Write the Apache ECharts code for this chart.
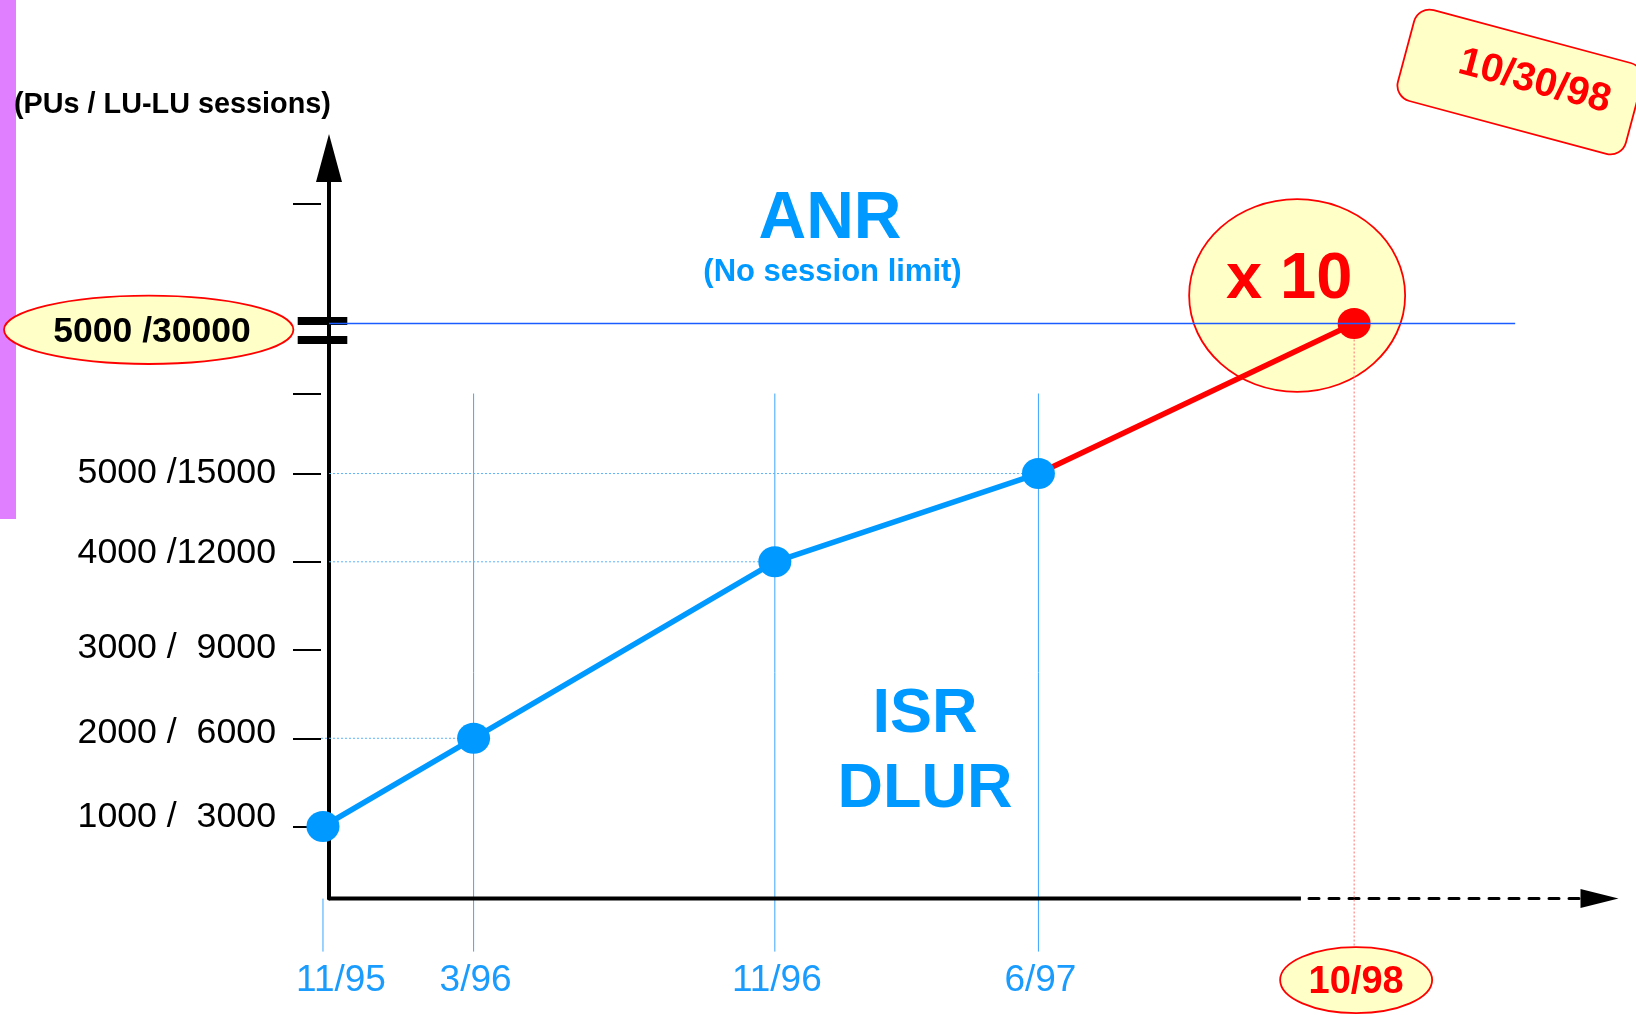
<!DOCTYPE html>
<html>
<head>
<meta charset="utf-8">
<script src="https://cdn.jsdelivr.net/npm/echarts@6/dist/echarts.min.js"></script>
<style>
html, body { margin: 0; padding: 0; background: #fff; }
#main { width: 1636px; height: 1015px; }
</style>
</head>
<body>
<div id="main"></div>
<script>
// data
var dateLabels = ['11/95', '3/96', '11/96', '6/97', '10/98'];
var monthsSinceStart = [0, 4, 12, 19, 35];
var puCounts = [1000, 2000, 4000, 5000, 5000];
var sessionCounts = [3000, 6000, 12000, 15000, 30000];
var yTickSessions = [3000, 6000, 9000, 12000, 15000, 23000, 42000];
var yTickLabels = ['1000 /  3000', '2000 /  6000', '3000 /  9000', '4000 /12000', '5000 /15000', '', ''];
var anrLabel = puCounts[4] + ' /' + sessionCounts[4];

// both axes are broken: time after 6/97 and sessions above 15000 are squeezed
var X_BREAK = 19, X_SQUEEZE = 0.524;
var Y_BREAK = 15000, Y_SQUEEZE = 0.34;
function bx(m) { return m <= X_BREAK ? m : X_BREAK + (m - X_BREAK) * X_SQUEEZE; }
function by(s) { return s <= Y_BREAK ? s : Y_BREAK + (s - Y_BREAK) * Y_SQUEEZE; }

var X_MIN = 0.16, X_MAX = 33.9, Y_MIN = 550, Y_MAX = 25730;
var PX_PER_UNIT_Y = 740.7 / (Y_MAX - Y_MIN);
// the slide's labels sit a few px above their ticks (px, per labelled tick)
var labelLift = [9, 5, 2, 9, 0];

var FONT = '"Liberation Sans", Arial, Helvetica, sans-serif';
var BLUE = '#0099ff';
var RED = '#ff0000';
var PALE = '#ffffc8';

var chart = echarts.init(document.getElementById('main'));

var isrData = [];
for (var i = 0; i < 4; i++) {
    isrData.push([bx(monthsSinceStart[i]), by(sessionCounts[i])]);
}
var anrData = [
    { value: [bx(monthsSinceStart[3]), by(sessionCounts[3])], symbol: 'none' },
    { value: [bx(monthsSinceStart[4]), by(sessionCounts[4])], symbol: 'circle' }
];

var tickPos = yTickSessions.map(by);
var labelPos = [];
tickPos.forEach(function (v, k) {
    if (yTickLabels[k] !== '') labelPos.push(v + labelLift[k] / PX_PER_UNIT_Y);
});

option = {
    animation: false,
    backgroundColor: '#fff',
    grid: { left: 329, right: 36.5, top: 157.9, bottom: 116.4, outerBoundsMode: 'none' },
    xAxis: {
        type: 'value',
        min: X_MIN,
        max: X_MAX,
        axisLine: {
            onZero: false,
            symbol: ['none', 'triangle'],
            symbolSize: [19, 38],
            lineStyle: { color: '#000', width: 3, type: [10, 10] }
        },
        axisTick: { show: false },
        axisLabel: { show: false },
        splitLine: { show: false }
    },
    yAxis: [
        {
            type: 'value',
            position: 'left',
            min: Y_MIN,
            max: Y_MAX,
            axisLine: {
                onZero: false,
                symbol: ['none', 'triangle'],
                symbolSize: [26, 48],
                lineStyle: { color: '#000', width: 4 }
            },
            axisTick: { show: false },
            axisLabel: { show: false },
            splitLine: { show: false }
        },
        {
            type: 'value',
            position: 'left',
            offset: 8,
            min: Y_MIN,
            max: Y_MAX,
            axisLine: { show: false, onZero: false },
            axisTick: {
                show: true,
                length: 28,
                customValues: tickPos,
                lineStyle: { color: '#000', width: 2 }
            },
            axisLabel: {
                customValues: labelPos,
                margin: 45,
                color: '#000',
                fontSize: 35.7,
                fontFamily: FONT,
                formatter: function (v) {
                    var best = 0;
                    for (var k = 0; k < tickPos.length; k++) {
                        if (Math.abs(tickPos[k] - v) < Math.abs(tickPos[best] - v)) best = k;
                    }
                    return yTickLabels[best];
                }
            },
            splitLine: { show: false }
        }
    ],
    series: [
        {
            name: 'ANR',
            type: 'line',
            data: anrData,
            clip: false,
            z: 3,
            symbolSize: [33, 31],
            lineStyle: { color: RED, width: 5.5 },
            itemStyle: { color: RED }
        },
        {
            name: 'ISR / DLUR',
            type: 'line',
            data: isrData,
            clip: false,
            z: 4,
            symbol: 'circle',
            symbolSize: [33, 31],
            lineStyle: { color: BLUE, width: 5.5 },
            itemStyle: { color: BLUE }
        }
    ]
};
chart.setOption(option);

// annotations placed through the grid's own scales
function px(x, y) { return chart.convertToPixel({ gridIndex: 0 }, [x, y]); }
var origin = px(X_MIN, Y_MIN);
var axisX = origin[0], axisY = origin[1];
var anrY = px(X_MIN, by(sessionCounts[4]))[1];
var guideTop = px(X_MIN, by(yTickSessions[5]))[1];
var pts = monthsSinceStart.map(function (m, k) { return px(bx(m), by(sessionCounts[k])); });

var g = [];
function line(x1, y1, x2, y2, style, z) {
    g.push({ type: 'line', z: z || 2, shape: { x1: x1, y1: y1, x2: x2, y2: y2 }, style: style });
}
// y is the wanted centre of the capitals
function text(x, y, str, size, weight, fill, align) {
    g.push({ type: 'text', z: 10, x: x, y: y + size * 0.075,
        style: { text: str, font: weight + ' ' + size + 'px ' + FONT, fill: fill,
            align: align || 'center', verticalAlign: 'middle' } });
}

// side bar
g.push({ type: 'rect', z: 0, shape: { x: 0, y: 0, width: 16, height: 519 }, style: { fill: '#e07fff' } });

text(14, 102.5, '(PUs / LU-LU sessions)', 28.8, 'bold', '#000', 'left');

// date drop lines
for (var d = 0; d < 4; d++) {
    line(pts[d][0], d === 0 ? axisY : guideTop, pts[d][0], axisY + 53,
        { stroke: '#3aa6ff', lineWidth: 1 }, 1);
    text(pts[d][0] + (d === 0 ? 18 : 2), axisY + 79.5, dateLabels[d], 37, 'normal', '#1a9cff');
}
// dotted guides from the y axis
for (var h = 1; h < 4; h++) {
    line(axisX - (h === 1 ? 8 : 0), pts[h][1], pts[h][0], pts[h][1],
        { stroke: '#5ab4ff', lineWidth: 1, lineDash: [2, 2] }, 1);
}
// red drop line for 10/98
line(pts[4][0], pts[4][1], pts[4][0], axisY + 49, { stroke: '#ff7070', lineWidth: 1, lineDash: [2, 2] }, 0);

// solid part of the time axis
line(axisX, axisY, px(25.97, Y_MIN)[0], axisY, { stroke: '#000', lineWidth: 4 }, 5);
// ANR level line
line(axisX, anrY, px(31.66, Y_MIN)[0], anrY, { stroke: '#1a5cff', lineWidth: 1.5 }, 6);
// axis break marks
g.push({ type: 'rect', z: 5, shape: { x: axisX - 31.3, y: anrY - 6.5, width: 49.6, height: 8 }, style: { fill: '#000' } });
g.push({ type: 'rect', z: 5, shape: { x: axisX - 31.3, y: anrY + 12.5, width: 49.6, height: 8 }, style: { fill: '#000' } });

// 5000 /30000 bubble
g.push({ type: 'ellipse', z: 7, shape: { cx: 148.7, cy: anrY + 6.3, rx: 144.7, ry: 34.2 },
    style: { fill: PALE, stroke: RED, lineWidth: 1.8 } });
text(152, anrY + 6, anrLabel, 35.5, 'bold', '#000');

// x 10 bubble
g.push({ type: 'ellipse', z: 1, shape: { cx: pts[4][0] - 57, cy: pts[4][1] - 28, rx: 108, ry: 96.3 },
    style: { fill: PALE, stroke: RED, lineWidth: 1.8 } });
text(pts[4][0] - 65, pts[4][1] - 48.5, 'x 10', 65, 'bold', RED);

// 10/98 bubble
g.push({ type: 'ellipse', z: 7, shape: { cx: pts[4][0] + 2, cy: axisY + 81.5, rx: 76, ry: 33 },
    style: { fill: PALE, stroke: RED, lineWidth: 1.8 } });
text(pts[4][0] + 2, axisY + 81.5, dateLabels[4], 38, 'bold', RED);

// region names
text(830, 215, 'ANR', 66, 'bold', BLUE);
text(832.5, 270.5, '(No session limit)', 31, 'bold', BLUE);
text(925, 710, 'ISR', 63, 'bold', BLUE);
text(925, 785, 'DLUR', 63, 'bold', BLUE);

// date stamp
g.push({
    type: 'group', x: 1520, y: 82, rotation: -15 * Math.PI / 180, z: 8,
    children: [
        { type: 'rect', z: 8, shape: { x: -118, y: -47, width: 236, height: 94, r: 16 },
            style: { fill: PALE, stroke: RED, lineWidth: 1.8 } },
        { type: 'text', z: 9, x: 14, y: -4,
            style: { text: '10/30/98', font: 'bold 40px ' + FONT, fill: RED, align: 'center', verticalAlign: 'middle' } }
    ]
});

chart.setOption({ graphic: g });
</script>
</body>
</html>
